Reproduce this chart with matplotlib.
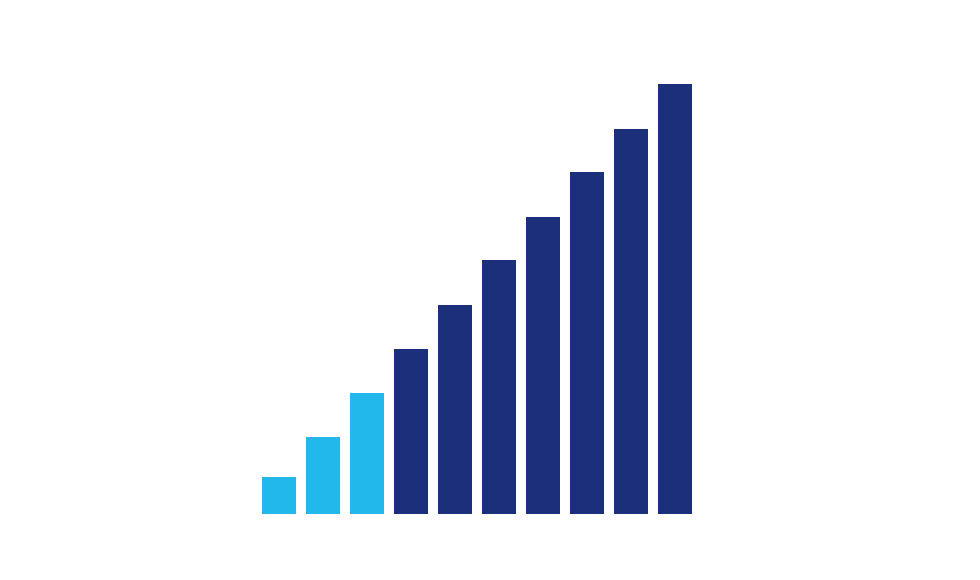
import matplotlib
matplotlib.use("Agg")
import matplotlib.pyplot as plt

# bar heights (arbitrary units, no axis shown)
values = [37, 77, 121, 165, 209, 254, 297, 342, 385, 430]
highlight = [True, True, True, False, False, False, False, False, False, False]

light = "#23B8EB"
dark = "#1B2F7A"
colors = [light if h else dark for h in highlight]

fig = plt.figure(figsize=(9.8, 5.8), dpi=100)
ax = fig.add_axes([0, 0, 1, 1])

x = list(range(len(values)))
ax.bar(x, values, width=34 / 44, color=colors, linewidth=0)

ax.set_xlim(-279 / 44, (980 - 279) / 44)
ax.set_ylim(-66, 514)
ax.axis("off")

fig.savefig("out.png", dpi=100, facecolor="white")
